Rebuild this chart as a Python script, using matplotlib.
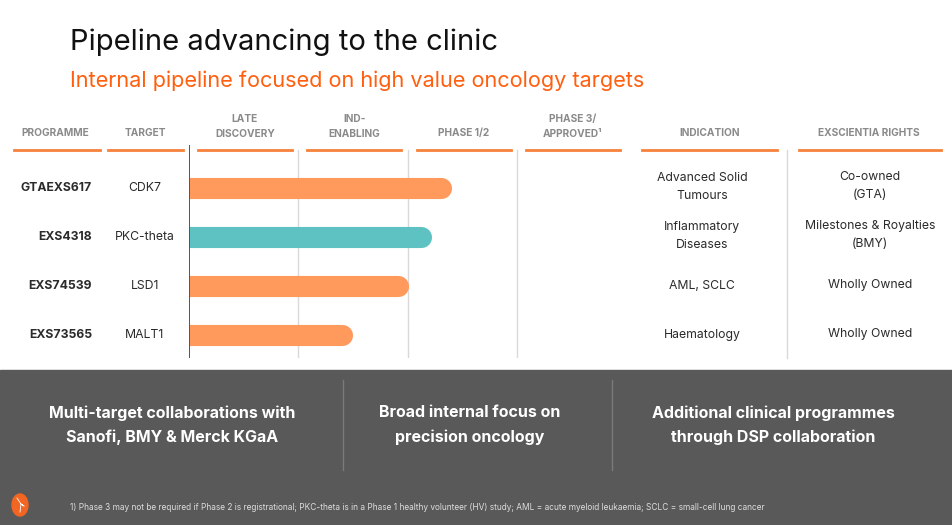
import matplotlib.pyplot as plt
from matplotlib.patches import Rectangle, Ellipse
from matplotlib.lines import Line2D
from matplotlib.transforms import blended_transform_factory

## DATA
programmes = ["GTAEXS617", "EXS4318", "EXS74539", "EXS73565"]
targets = ["CDK7", "PKC-theta", "LSD1", "MALT1"]
progress = [2.40, 2.22, 2.01, 1.50]   # in phases: 1 = late discovery, 2 = IND-enabling, 3 = phase 1/2
bar_colors = ["#FF995C", "#5EC2C2", "#FF995C", "#FF995C"]
indications = ["Advanced Solid\nTumours", "Inflammatory\nDiseases", "AML, SCLC", "Haematology"]
rights = ["Co-owned\n(GTA)", "Milestones & Royalties\n(BMY)", "Wholly Owned", "Wholly Owned"]
phase_headers = ["LATE\nDISCOVERY", "IND-\nENABLING", "PHASE 1/2", "PHASE 3/\nAPPROVED\u00b9"]
band_texts = ["Multi-target collaborations with\nSanofi, BMY & Merck KGaA",
              "Broad internal focus on\nprecision oncology",
              "Additional clinical programmes\nthrough DSP collaboration"]
title = "Pipeline advancing to the clinic"
subtitle = "Internal pipeline focused on high value oncology targets"
footnote = ("1) Phase 3 may not be required if Phase 2 is registrational; PKC-theta is in a Phase 1 healthy "
            "volunteer (HV) study; AML = acute myeloid leukaemia; SCLC = small-cell lung cancer")

W, H = 952, 525
plt.rcParams['font.family'] = ['Inter', 'DejaVu Sans']

fig = plt.figure(figsize=(W / 100, H / 100), dpi=100)
fig.patch.set_facecolor("white")

def fx(px):
    return px / W

def fy(py):
    return 1 - py / H

ORANGE = "#F5823A"
DARK = "#2B2B2B"
HEAD = "#8A8A8A"

# titles
fig.text(fx(70), fy(42.5), title, fontsize=21, color="#111111", va="center", ha="left")
fig.text(fx(70), fy(80.5), subtitle, fontsize=15.6, color="#FF5F0F", va="center", ha="left")

# column headers and underlines
headers = [("PROGRAMME", 55, 14, 100), ("TARGET", 145, 108, 183)]
for i, h in enumerate(phase_headers):
    headers.append((h, 245 + i * 109.3, 198 + i * 109.3, 292 + i * 109.3))
headers += [("INDICATION", 710, 642, 777), ("EXSCIENTIA RIGHTS", 869, 799, 941)]
for text, xc, x0, x1 in headers:
    yc = 126.5 if "\n" in text else 133
    fig.text(fx(xc), fy(yc), text, fontsize=7.3, fontweight="bold", color=HEAD,
             ha="center", va="center", linespacing=1.58)
    fig.add_artist(Line2D([fx(x0), fx(x1)], [fy(150), fy(150)], color=ORANGE, lw=2))

# bar axes: x in phases, rows top to bottom
ax = fig.add_axes([fx(189), fy(358), fx(626) - fx(189), (358 - 145) / H])
ax.set_xlim(0, 4)
ax.set_ylim(3.469, -0.878)
ax.axis("off")

cap = 10.5 / 109.3   # rounded end radius in phase units
for i, (v, c) in enumerate(zip(progress, bar_colors)):
    ax.plot([0, v - cap], [i, i], color=c, lw=15.2, solid_capstyle="round", zorder=3)

for g in [1, 2, 3]:
    ax.plot([g, g], [ax.get_ylim()[1] + 5 / 49, ax.get_ylim()[0]], color="#D9D9D9", lw=1, zorder=1)
ax.plot([0, 0], list(ax.get_ylim())[::-1], color="#555555", lw=1.4, zorder=4)

# separator between indication and rights
fig.add_artist(Line2D([fx(787), fx(787)], [fy(150), fy(358)], color="#D9D9D9", lw=1))

# row text
tr = blended_transform_factory(fig.transFigure, ax.transData)
for i in range(len(programmes)):
    ax.text(fx(92), i, programmes[i], transform=tr, ha="right", va="center",
            fontsize=8.8, fontweight="bold", color=DARK)
    ax.text(fx(145), i, targets[i], transform=tr, ha="center", va="center", fontsize=8.8, color=DARK)
    ax.text(fx(702), i - 0.02 if "\n" in indications[i] else i, indications[i], transform=tr,
            ha="center", va="center", fontsize=8.8, color=DARK, linespacing=1.6)
    ax.text(fx(870), i - 0.04 if "\n" in rights[i] else i - 0.02, rights[i], transform=tr,
            ha="center", va="center", fontsize=8.8, color=DARK, linespacing=1.6)

# dark band
fig.add_artist(Rectangle((0, 0), 1, fy(370), transform=fig.transFigure, color="#595959", zorder=0))
for x in [343, 612]:
    fig.add_artist(Line2D([fx(x), fx(x)], [fy(380), fy(470)], color="#7A7A7A", lw=1))
for xc, t in zip([172, 470, 773], band_texts):
    fig.text(fx(xc), fy(425), t, ha="center", va="center", fontsize=11.5, fontweight="bold",
             color="white", linespacing=1.7)

fig.text(fx(70), fy(507), footnote, fontsize=6, color="#DDDDDD", ha="left", va="center")

# logo
fig.add_artist(Ellipse((fx(20), fy(505)), fx(16), 22 / H, transform=fig.transFigure,
                       color="#F26522", zorder=2))
fig.add_artist(Line2D([fx(17), fx(21), fx(24), fx(21), fx(20)], [fy(498), fy(504), fy(506), fy(504), fy(512)],
                      color="white", lw=0.6, zorder=3))

fig.savefig("out.png", dpi=100)
